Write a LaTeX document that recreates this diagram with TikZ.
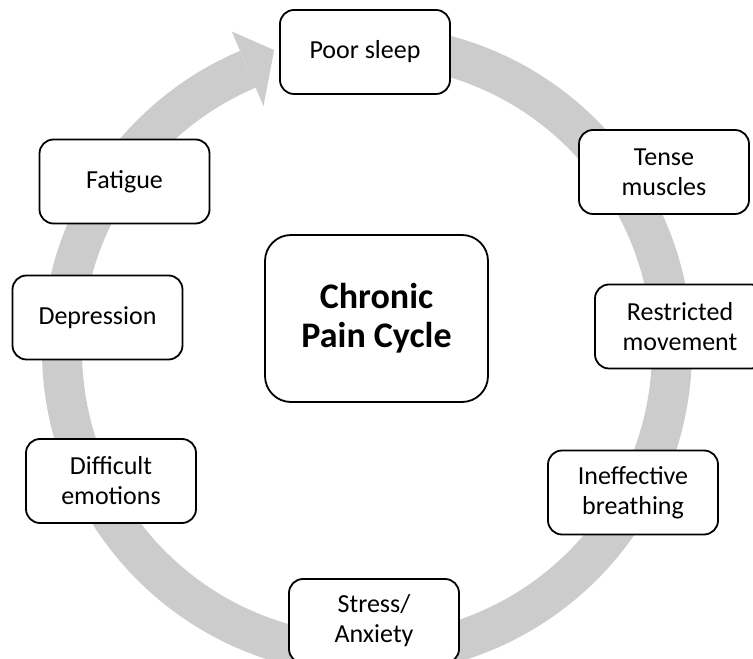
\documentclass[tikz,border=0pt]{standalone}
\usepackage{fontspec}
\setmainfont{Carlito}
\definecolor{ringgray}{RGB}{204,204,204}
\begin{document}
\begin{tikzpicture}[x=1pt,y=1pt,
  box/.style={draw=black, fill=white, line width=1.8pt, rounded corners=14pt,
    minimum width=170pt, minimum height=84pt, align=center, inner sep=2pt,
    font=\fontsize{26}{30}\selectfont},
  hub/.style={box, minimum width=223pt, minimum height=167pt, rounded corners=26pt,
    font=\fontsize{36}{39}\selectfont\bfseries},
  ring/.style={draw=ringgray, line width=40pt}]
\useasboundingbox (0,0) rectangle (753,659);
\clip (0,0) rectangle (753,659);
\coordinate (c) at (367,309);
\draw[ring] (c) ++(85:305) arc[start angle=85, end angle=-247, radius=305];
\begin{scope}[shift={(c)}]
  \fill[ringgray] (113:346) -- (107.2:314) -- (113:265) -- cycle;
\end{scope}
\node[box] (sleep) at (365,607) {Poor sleep};
\node[box] (tense) at (664,487) {Tense\\muscles};
\node[box] (restr) at (680,332.5) {Restricted\\movement};
\node[box] (breath) at (633,166.5) {Ineffective\\breathing};
\node[box] (stress) at (374,38) {Stress/\\Anxiety};
\node[box] (emot) at (111,178) {Difficult\\emotions};
\node[box] (depr) at (97.5,341.5) {Depression};
\node[box] (fat) at (124.5,477.5) {Fatigue};
\node[hub] (hub) at (376.5,340.5) {Chronic\\Pain Cycle};
\end{tikzpicture}
\end{document}
